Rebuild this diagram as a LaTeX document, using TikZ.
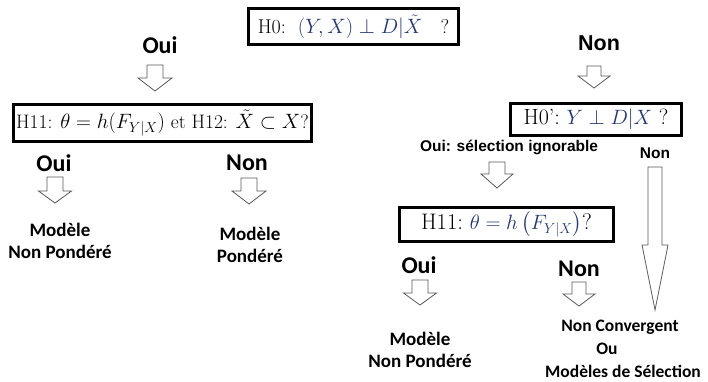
\documentclass[tikz,border=0pt]{standalone}
\usepackage[no-math]{fontspec}
\usepackage{amsmath}
\newfontfamily\calib{Carlito}
\newfontfamily\arialf{Liberation Sans}
\definecolor{mathblue}{RGB}{35,55,110}
\definecolor{arrowgray}{RGB}{90,90,90}

% hollow block arrow pointing down:
% #1 centre x, #2 top, #3 start of head, #4 tip, #5 half shaft width, #6 half head width
\newcommand{\blockdown}[6]{%
  \draw[blockarrow] (#1-#5,#2) -- (#1+#5,#2) -- (#1+#5,#3) -- (#1+#6,#3)
    -- (#1,#4) -- (#1-#6,#3) -- (#1-#5,#3) -- cycle;}

\tikzset{
  hyp/.style={draw, line width=3.5pt, fill=white, inner sep=0pt, align=center},
  blockarrow/.style={draw=arrowgray, line width=0.8pt, fill=white, line join=miter},
  ans/.style={inner sep=0pt, font=\calib\bfseries\fontsize{24}{28}\selectfont},
  ansarial/.style={inner sep=0pt, font=\arialf\bfseries\fontsize{21.5}{26}\selectfont},
  small/.style={inner sep=0pt, font=\arialf\bfseries\fontsize{15.5}{18}\selectfont},
  result/.style={inner sep=0pt, align=center, font=\calib\bfseries\fontsize{19}{22}\selectfont},
  resultsm/.style={inner sep=0pt, font=\calib\bfseries\fontsize{17.5}{20}\selectfont},
}

\begin{document}
\begin{tikzpicture}[x=1pt, y=-1pt]
\useasboundingbox[fill=white] (0,0) rectangle (708,381);

% hypothesis boxes
\node[hyp, minimum width=210pt, minimum height=36pt] (h0) at (353.5,26.5)
  {\fontsize{20}{24}\selectfont H0:\ \ $\color{mathblue}(Y,X)\perp D|\tilde{X}$\ \ \ ?};
\node[hyp, minimum width=298pt, minimum height=37pt] (h11a) at (162.5,123)
  {\fontsize{19.5}{24}\selectfont H11: $\theta=h(F_{Y|X})$ et H12: $\tilde{X}\subset X$?};
\node[hyp, minimum width=171pt, minimum height=32pt] (h0p) at (596,119.5)
  {\fontsize{22}{26}\selectfont H0':\ $\color{mathblue}Y\perp D|X$\ ?};
\node[hyp, minimum width=214pt, minimum height=34pt] (h11b) at (506.5,224.5)
  {\fontsize{22.5}{26}\selectfont H11:\ $\color{mathblue}\theta=h\left(F_{Y|X}\right)$?};

% answers
\node[ans] (oui0) at (160,45) {Oui};
\node[ansarial] (non0) at (599,43) {Non};
\node[ans] (oui1) at (54,163) {Oui};
\node[ans] (non1) at (247,163) {Non};
\node[small] (sel) at (509,147) {Oui: sélection ignorable};
\node[small] (non2) at (655,153) {Non};
\node[ans] (oui3) at (419,265) {Oui};
\node[ans] (non3) at (579,269) {Non};

% outcomes
\node[result] (r1) at (60,241) {Modèle\\Non Pondéré};
\node[result] (r2) at (250,245) {Modèle\\Pondéré};
\node[result] (r3) at (420,350) {Modèle\\Non Pondéré};
\node[resultsm] (r4) at (620,327) {Non Convergent};
\node[resultsm] (r5) at (607,349) {Ou};
\node[resultsm] (r6) at (623,371) {Modèles de Sélection};

% hollow arrows
\blockdown{155}{65}{78}{91}{8}{17}
\blockdown{594}{66}{76}{88}{7}{16}
\blockdown{497}{162}{174}{188}{8}{16}
\blockdown{655}{167}{245}{310}{7}{13}
\blockdown{55}{177}{191}{203}{8}{16.5}
\blockdown{249}{178}{191}{204}{8}{17}
\blockdown{420}{280}{293}{305}{8}{16.5}
\blockdown{579}{282}{294}{306}{7}{16}
\end{tikzpicture}
\end{document}
